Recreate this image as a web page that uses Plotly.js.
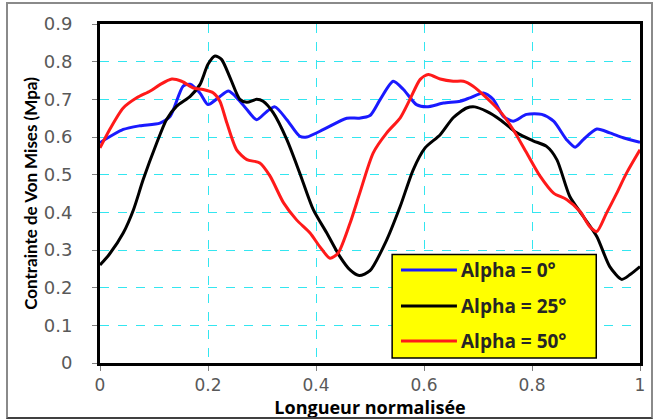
<!DOCTYPE html>
<html>
<head>
<meta charset="utf-8">
<script src="https://cdn.plot.ly/plotly-3.0.1.min.js"></script>
<style>
  html, body { margin: 0; padding: 0; background: #fff; }
  #wrap { position: relative; width: 653px; height: 419px; }
  #chart { width: 653px; height: 419px; }
  #frame { position: absolute; left: 6px; top: 2px; width: 643px; height: 413px;
           border: 2px solid #8a8a8a; border-bottom-color: #404040; pointer-events: none; }
</style>
</head>
<body>
<div id="wrap"><div id="chart"></div><div id="frame"></div></div>
<script>
const seriesNames = ["Alpha = 0°", "Alpha = 25°", "Alpha = 50°"];
const seriesColors = ["#1a1aff", "#000000", "#ff1a1a"];

const x0 = [0,0.043,0.074,0.111,0.13,0.154,0.167,0.185,0.2,0.219,0.238,0.256,0.272,0.29,0.309,0.324,0.346,0.37,0.383,0.414,0.457,0.48,0.5,0.519,0.543,0.562,0.586,0.605,0.636,0.667,0.685,0.71,0.728,0.747,0.765,0.79,0.818,0.84,0.864,0.88,0.895,0.92,0.944,0.969,1.0];
const y0 = [0.585,0.62,0.63,0.637,0.655,0.735,0.74,0.717,0.686,0.704,0.722,0.70,0.673,0.646,0.668,0.68,0.646,0.602,0.60,0.62,0.65,0.65,0.657,0.70,0.748,0.726,0.686,0.68,0.69,0.695,0.704,0.717,0.70,0.655,0.642,0.66,0.66,0.642,0.593,0.573,0.593,0.621,0.611,0.598,0.586];

const x25 = [0,0.018,0.043,0.062,0.08,0.105,0.123,0.142,0.167,0.185,0.2,0.213,0.225,0.241,0.259,0.272,0.29,0.302,0.321,0.346,0.37,0.395,0.42,0.444,0.463,0.48,0.5,0.531,0.556,0.58,0.602,0.63,0.654,0.679,0.694,0.716,0.741,0.772,0.802,0.827,0.846,0.87,0.895,0.92,0.944,0.966,0.981,1.0];
const y25 = [0.26,0.29,0.345,0.407,0.487,0.584,0.646,0.682,0.708,0.739,0.793,0.815,0.806,0.757,0.70,0.692,0.70,0.695,0.664,0.593,0.504,0.407,0.345,0.283,0.247,0.232,0.245,0.327,0.416,0.513,0.571,0.606,0.651,0.677,0.68,0.668,0.646,0.611,0.59,0.575,0.54,0.442,0.389,0.336,0.256,0.222,0.234,0.256];

const x50 = [0,0.018,0.043,0.068,0.093,0.111,0.133,0.151,0.173,0.191,0.21,0.222,0.235,0.253,0.272,0.296,0.315,0.34,0.364,0.389,0.407,0.426,0.441,0.463,0.481,0.506,0.531,0.556,0.574,0.593,0.608,0.63,0.654,0.673,0.691,0.716,0.741,0.765,0.79,0.815,0.84,0.864,0.889,0.907,0.92,0.938,0.957,0.975,1.0];
const y50 = [0.571,0.62,0.677,0.704,0.722,0.739,0.754,0.748,0.73,0.726,0.717,0.695,0.637,0.566,0.54,0.531,0.496,0.425,0.38,0.345,0.309,0.278,0.292,0.371,0.451,0.558,0.611,0.651,0.70,0.753,0.766,0.754,0.748,0.748,0.735,0.704,0.668,0.62,0.558,0.496,0.451,0.434,0.402,0.362,0.349,0.398,0.451,0.504,0.566];

const xTicks = [0, 0.2, 0.4, 0.6, 0.8, 1];
const xTickText = ["0", "0.2", "0.4", "0.6", "0.8", "1"];
const yTicks = [0, 0.1, 0.2, 0.3, 0.4, 0.5, 0.6, 0.7, 0.8, 0.9];
const yTickText = ["0", "0.1", "0.2", "0.3", "0.4", "0.5", "0.6", "0.7", "0.8", "0.9"];

const xs = [x0, x25, x50], ys = [y0, y25, y50];
const traces = xs.map((x, i) => ({
  x: x, y: ys[i], type: "scatter", mode: "lines", name: seriesNames[i],
  line: { color: seriesColors[i], width: 3, shape: "spline", smoothing: 0.7 },
  showlegend: false, hoverinfo: "skip"
}));

// manual legend (paper coords)
const legRows = [0.2743, 0.168, 0.065];
const shapes = [{
  type: "rect", xref: "paper", yref: "paper", x0: 0.541, x1: 0.919, y0: 0.015, y1: 0.32,
  fillcolor: "#ffff00", line: { color: "#000", width: 1.5 }, layer: "above"
}];
const annotations = [];
seriesNames.forEach((n, i) => {
  shapes.push({ type: "line", xref: "paper", yref: "paper", x0: 0.5574, x1: 0.661,
    y0: legRows[i], y1: legRows[i], line: { color: seriesColors[i], width: 3 }, layer: "above" });
  annotations.push({ xref: "paper", yref: "paper", x: 0.664, y: legRows[i], xanchor: "left",
    yanchor: "middle", text: n, showarrow: false,
    font: { family: "'Open Sans', 'Noto Sans', sans-serif", size: 19, color: "#262626", weight: "bold" } });
});

const axisCommon = {
  showline: true, linecolor: "#000", linewidth: 3, mirror: true,
  showgrid: true, gridcolor: "#33e6f0", gridwidth: 1, griddash: "dash",
  zeroline: false, ticks: "outside", ticklen: 5, tickcolor: "#808080", tickwidth: 1,
  tickfont: { family: "'DejaVu Sans', Verdana, sans-serif", size: 18, color: "#595959" }
};

const layout = {
  width: 653, height: 419,
  margin: { l: 100, r: 13, t: 24, b: 56 },
  paper_bgcolor: "#fff", plot_bgcolor: "#fff",
  showlegend: false,
  xaxis: Object.assign({}, axisCommon, {
    range: [0, 1], tickvals: xTicks, ticktext: xTickText, ticklabelstandoff: 0,
    tickfont: { family: "'DejaVu Sans', Verdana, sans-serif", size: 17, color: "#595959" },
    title: { text: "Longueur normalisée", standoff: 4,
      font: { family: "'Open Sans', 'Noto Sans', sans-serif", size: 18, color: "#000", weight: "bold" } }
  }),
  yaxis: Object.assign({}, axisCommon, {
    range: [0, 0.9], tickvals: yTicks, ticktext: yTickText, ticklabelstandoff: 16,
    title: { text: "Contrainte de Von Mises (Mpa)", standoff: 2,
      font: { family: "Lato, 'Noto Sans', sans-serif", size: 17, color: "#000", weight: "bold" } }
  }),
  shapes: shapes, annotations: annotations
};

Plotly.newPlot("chart", traces, layout, { staticPlot: true, displayModeBar: false });
</script>
</body>
</html>
